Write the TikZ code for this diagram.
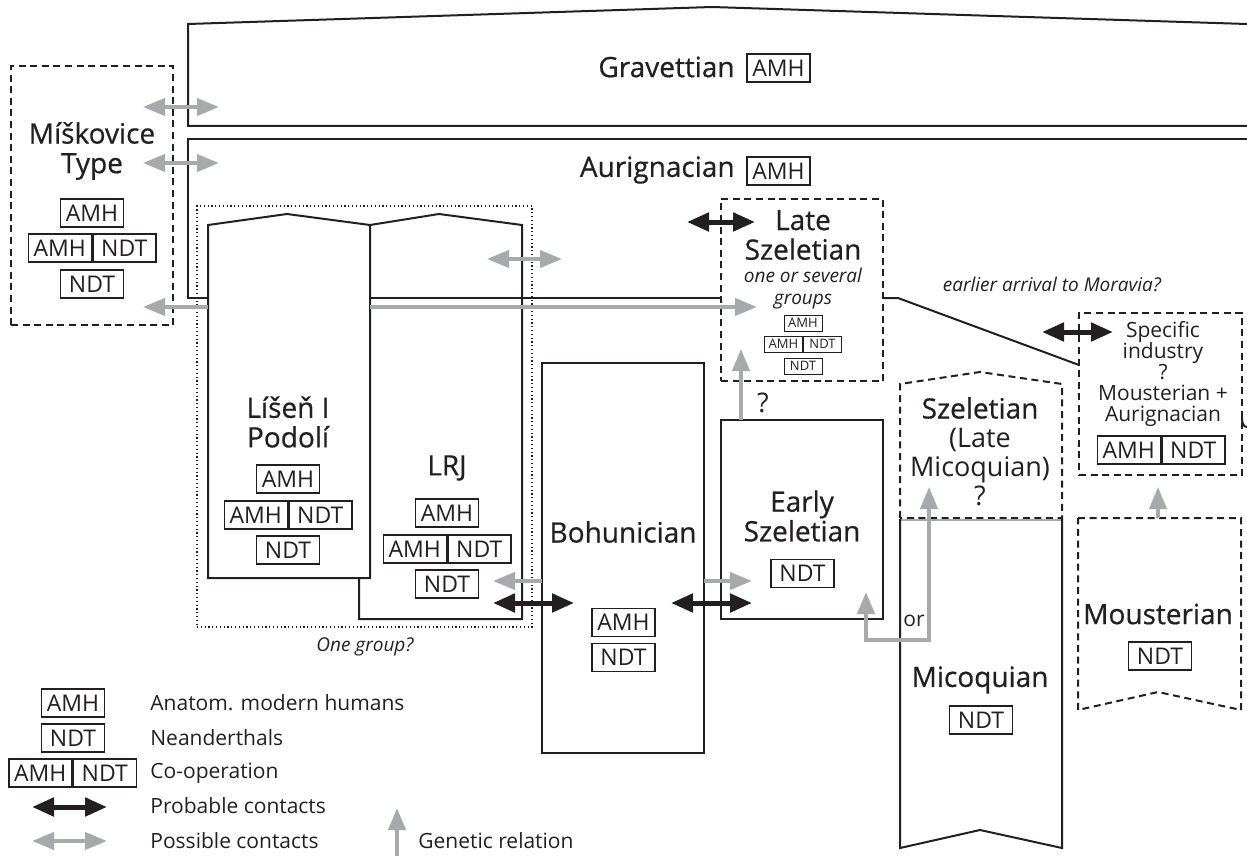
\documentclass[tikz,border=0pt]{standalone}
\usepackage{fontspec}
\setmainfont{Open Sans}
\newfontfamily\titlefont{Open Sans}[FakeBold=0.6]
\usetikzlibrary{arrows.meta,positioning}
\definecolor{dink}{HTML}{231F20}
\definecolor{dgrey}{HTML}{A7A9AC}

% two half boxes side by side: AMH | NDT
\newcommand\coop[3]{%
  \node[#3,anchor=east] (#1-a) at (#2) {AMH};
  \node[#3,anchor=west] (#1-n) at (#2) {NDT};}

\begin{document}
\begin{tikzpicture}[x=0.5pt,y=-0.5pt,
  every node/.style={text=dink,inner sep=0pt},
  title/.style={font=\titlefont\fontsize{14}{14.8}\selectfont,align=center},
  subtitle/.style={font=\fontsize{13.5}{14.5}\selectfont,align=center},
  note/.style={font=\fontsize{9.5}{11}\selectfont\itshape,align=center},
  legend/.style={font=\fontsize{10.5}{12}\selectfont,anchor=west},
  tag/.style={draw=dink,line width=0.75pt,minimum width=31.5pt,minimum height=14pt,font=\fontsize{11.5}{12}\selectfont},
  smalltag/.style={tag,line width=0.5pt,minimum width=19pt,minimum height=8pt,font=\fontsize{6.5}{7}\selectfont},
  outline/.style={draw=dink,line width=1pt},
  dashedbox/.style={outline,dash pattern=on 3.5pt off 2.3pt},
  possible/.style={draw=dgrey,line width=2pt,-{Triangle[length=11pt,width=8.5pt]}},
  possible2/.style={possible,{Triangle[length=11pt,width=8.5pt]}-{Triangle[length=11pt,width=8.5pt]}},
  probable/.style={draw=dink,line width=2.5pt,{Triangle[length=11pt,width=9pt]}-{Triangle[length=11pt,width=9pt]}}]
  \useasboundingbox (0,0) rectangle (1247,856);

  % Gravettian and Aurignacian bands
  \draw[outline] (1247,126) -- (188,126) -- (188,24) -- (712,7) -- (1247,24);
  \draw[outline] (1247,139) -- (188,139) -- (188,298) -- (208,298);
  \draw[outline] (370,298) -- (721,298);
  \draw[outline] (883,298) -- (898,298) -- (1079,365);
  \draw[outline] (1242,418) to[out=-90,in=180] (1247,427);

  \node[title,anchor=east] (grav) at (735,67) {Gravettian};
  \node[tag] (grav-amh) at (778.5,68) {AMH};
  \node[title,anchor=east] (auri) at (735,170) {Aurignacian};
  \node[tag] (auri-amh) at (778.5,171) {AMH};

  % Miskovice
  \node[dashedbox,minimum width=81pt,minimum height=129.5pt] (misk) at (92,195.5) {};
  \node[title] (misk-t) at (92,151) {Míškovice\\Type};
  \node[tag] (misk-amh) at (92,213) {AMH};
  \coop{misk-c}{92,248}{tag}
  \node[tag] (misk-ndt) at (92,284) {NDT};

  % Lisen I / LRJ group
  \node[draw=dink,line width=0.6pt,dash pattern=on 0.6pt off 1.3pt,minimum width=167.5pt,minimum height=210.5pt] (group) at (364.5,416.5) {};
  \draw[outline] (359,578) -- (359,619) -- (522,619) -- (522,225) -- (439,214) -- (370,225);
  \draw[outline,fill=white] (208,578) -- (208,225) -- (287,214) -- (370,225) -- (370,578) -- cycle;
  \node[title] (lisen) at (288,422) {Líšeň I\\Podolí};
  \node[tag] (lisen-amh) at (288,479) {AMH};
  \coop{lisen-c}{288,515}{tag}
  \node[tag] (lisen-ndt) at (288,550) {NDT};
  \node[title] (lrj) at (447,468) {LRJ};
  \node[tag] (lrj-amh) at (447,513) {AMH};
  \coop{lrj-c}{447,549}{tag}
  \node[tag] (lrj-ndt) at (447,584) {NDT};
  \node[note] (group-t) at (365,647) {One group?};

  % Bohunician
  \node[outline,minimum width=81pt,minimum height=195pt] (boh) at (623,558) {};
  \node[title] (boh-t) at (623,532) {Bohunician};
  \node[tag] (boh-amh) at (623.5,622.5) {AMH};
  \node[tag] (boh-ndt) at (623.5,657.5) {NDT};

  % Szeletian, early and late
  \node[outline,minimum width=81pt,minimum height=99.5pt] (esz) at (802,519.5) {};
  \node[title] (esz-t) at (802,516) {Early\\Szeletian};
  \node[tag] (esz-ndt) at (802.5,573.5) {NDT};
  \node[dashedbox,minimum width=81pt,minimum height=91pt] (lsz) at (802,290) {};
  \node[title] (lsz-t) at (803,235) {Late\\Szeletian};
  \node[note] (lsz-n) at (803,289) {one or several\\groups};
  \node[smalltag] (lsz-amh) at (803,323) {AMH};
  \coop{lsz-c}{803,344}{smalltag}
  \node[smalltag] (lsz-ndt) at (803,366) {NDT};
  \node[subtitle] (q1) at (763,403) {?};

  % Szeletian (Late Micoquian) and Micoquian
  \draw[dashedbox] (900,518) -- (900,384) -- (980,372) -- (1062,384) -- (1062,518) -- cycle;
  \draw[dgrey,line width=0.6pt] (900,520) -- (1062,520);
  \draw[outline] (900,519) -- (900,848) -- (980,830) -- (1062,848) -- (1062,519);
  \node[title] (szm) at (980,408) {Szeletian};
  \node[subtitle] (szm-t) at (980,467) {(Late\\Micoquian)\\?};
  \node[title] (mic) at (980,680) {Micoquian};
  \node[tag] (mic-ndt) at (981,720) {NDT};
  \node[font=\fontsize{10.5}{12}\selectfont] (or) at (914,621) {or};

  % Mousterian and specific industry
  \draw[dashedbox] (1078,518) -- (1241,518) -- (1241,710) -- (1158,692) -- (1078,710) -- cycle;
  \node[title] (mous) at (1158,614) {Mousterian};
  \node[tag] (mous-ndt) at (1160,656) {NDT};
  \node[dashedbox,minimum width=81.5pt,minimum height=81pt] (spec) at (1160.5,394) {};
  \node[font=\fontsize{10.5}{10.6}\selectfont,align=center] (spec-t) at (1163,374) {Specific\\industry\\?\\Mousterian +\\Aurignacian};
  \coop{spec-c}{1161,450}{tag}
  \node[note] (early) at (1052,284) {earlier arrival to Moravia?};

  % contacts
  \coordinate (c1a) at (143,107); \coordinate (c1b) at (219,107);
  \coordinate (c2a) at (143,163); \coordinate (c2b) at (219,163);
  \coordinate (c3a) at (208,307); \coordinate (c3b) at (143,307);
  \coordinate (c4a) at (370,307); \coordinate (c4b) at (757,307);
  \coordinate (c5a) at (487,259); \coordinate (c5b) at (562,259);
  \coordinate (c6a) at (687,222); \coordinate (c6b) at (755,222);
  \coordinate (c7a) at (741,420); \coordinate (c7b) at (741,349);
  \coordinate (c8a) at (542,581); \coordinate (c8b) at (493,581);
  \coordinate (c9a) at (493,603); \coordinate (c9b) at (574,603);
  \coordinate (c10a) at (704,581); \coordinate (c10b) at (752,581);
  \coordinate (c11a) at (671,603); \coordinate (c11b) at (752,603);
  \coordinate (c12a) at (866,592); \coordinate (c12b) at (929,487);
  \coordinate (c13a) at (1042,332); \coordinate (c13b) at (1113,332);
  \coordinate (c14a) at (1158,518); \coordinate (c14b) at (1158,487);
  \draw[possible2] (c1a) -- (c1b);
  \draw[possible2] (c2a) -- (c2b);
  \draw[possible] (c3a) -- (c3b);
  \draw[possible] (c4a) -- (c4b);
  \draw[possible2] (c5a) -- (c5b);
  \draw[probable] (c6a) -- (c6b);
  \draw[possible] (c7a) -- (c7b);
  \draw[possible] (c8a) -- (c8b);
  \draw[probable] (c9a) -- (c9b);
  \draw[possible] (c10a) -- (c10b);
  \draw[probable] (c11a) -- (c11b);
  \draw[possible2] (c12a) -- (866,640) -- (929,640) -- (c12b);
  \draw[probable] (c13a) -- (c13b);
  \draw[possible] (c14a) -- (c14b);

  % legend
  \node[tag] (leg-amh) at (73,703) {AMH};
  \node[legend] at (150,703) {Anatom. modern humans};
  \node[tag] (leg-ndt) at (73,738) {NDT};
  \node[legend] at (150,738) {Neanderthals};
  \coop{leg-c}{72.5,773}{tag}
  \node[legend] at (150,773) {Co-operation};
  \coordinate (lp1) at (32,807); \coordinate (lp2) at (107,807);
  \draw[probable] (lp1) -- (lp2);
  \node[legend] at (150,806) {Probable contacts};
  \coordinate (lq1) at (32,841); \coordinate (lq2) at (107,841);
  \draw[possible2] (lq1) -- (lq2);
  \node[legend] at (150,841) {Possible contacts};
  \coordinate (lg1) at (397,856); \coordinate (lg2) at (397,808);
  \draw[possible] (lg1) -- (lg2);
  \node[legend] at (418,841) {Genetic relation};
\end{tikzpicture}
\end{document}
